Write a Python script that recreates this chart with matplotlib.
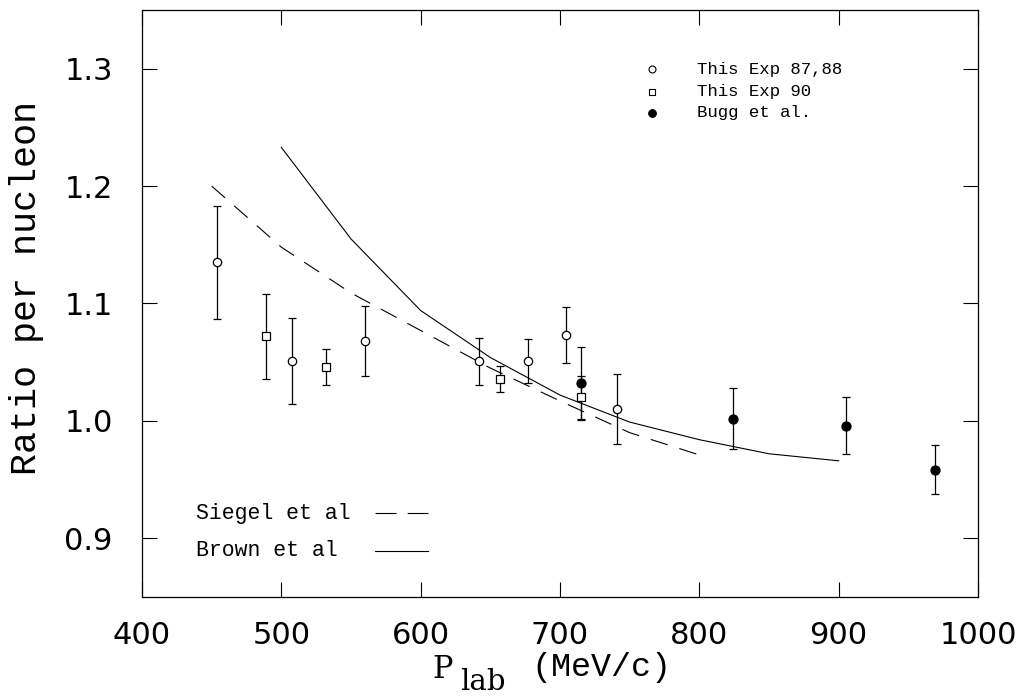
import numpy as np
import matplotlib
matplotlib.use('Agg')
import matplotlib.pyplot as plt

# data
exp8788_p = [454, 508, 560, 642, 677, 704, 741]
exp8788_r = [1.135, 1.051, 1.068, 1.051, 1.051, 1.073, 1.010]
exp8788_e = [0.048, 0.037, 0.030, 0.020, 0.019, 0.024, 0.030]

exp90_p = [489, 532, 657, 715]
exp90_r = [1.072, 1.046, 1.036, 1.020]
exp90_e = [0.036, 0.015, 0.011, 0.018]

bugg_p = [715, 824, 905, 969]
bugg_r = [1.032, 1.002, 0.996, 0.9585]
bugg_e = [0.031, 0.026, 0.024, 0.021]

siegel_p = [450, 500, 550, 600, 650, 700, 750, 800]
siegel_r = [1.200, 1.148, 1.109, 1.077, 1.045, 1.017, 0.990, 0.971]

brown_p = [500, 550, 600, 650, 700, 750, 800, 850, 900]
brown_r = [1.233, 1.155, 1.094, 1.054, 1.022, 0.999, 0.984, 0.972, 0.966]

xticks = [400, 500, 600, 700, 800, 900, 1000]
yticks = [0.9, 1.0, 1.1, 1.2, 1.3]

serif = 'DejaVu Serif'
mono = 'Liberation Mono'
lw = 0.8
W, H = 1016, 698

fig = plt.figure(figsize=(W / 100, H / 100), dpi=100)
ax = fig.add_axes([142 / W, 1 - 597 / H, 836 / W, 587 / H])
ax.set_xlim(400, 1000)
ax.set_ylim(0.85, 1.35)

# theory curves
ax.plot(siegel_p, siegel_r, color='black', lw=lw, linestyle=(0, (16, 11)))
ax.plot(brown_p, brown_r, color='black', lw=lw)

# data points
ebar = dict(ecolor='black', elinewidth=0.9, capsize=2.6, capthick=0.9, linestyle='none')
ax.errorbar(exp8788_p, exp8788_r, yerr=exp8788_e, marker='o', ms=6, mfc='white',
            mec='black', mew=0.9, **ebar)
ax.errorbar(exp90_p, exp90_r, yerr=exp90_e, marker='s', ms=5.5, mfc='white',
            mec='black', mew=0.9, **ebar)
ax.errorbar(bugg_p, bugg_r, yerr=bugg_e, marker='o', ms=6.5, mfc='black',
            mec='black', mew=0.9, **ebar)

# axes style
ax.set_xticks(xticks)
ax.set_yticks(yticks)
ax.set_yticklabels(['%.1f' % v for v in yticks])
ax.tick_params(axis='both', which='both', direction='in', length=11, width=0.8,
               top=True, right=True, labelsize=22)
ax.tick_params(axis='x', pad=17.5)
ax.tick_params(axis='y', pad=21)
for s in ax.spines.values():
    s.set_linewidth(0.9)

# y label
fig.text(27 / W, 1 - 288 / H, 'Ratio per nucleon', family=mono, fontsize=26.5,
         rotation=90, ha='center', va='center')

# x label: P_lab (MeV/c)
fig.text(432 / W, 1 - 654 / H, 'P', family=serif, fontsize=22, ha='left', va='top')
fig.text(460 / W, 1 - 668 / H, 'lab', family=serif, fontsize=21, ha='left', va='top')
fig.text(531 / W, 1 - 652 / H, '(MeV/c)', family=mono, fontsize=24, ha='left', va='top')

# upper-right key
keys = [('o', 'white', 'This Exp 87,88', 5),
        ('s', 'white', 'This Exp 90', 4.5),
        ('o', 'black', 'Bugg et al.', 5.5)]
rows = [0.899, 0.861, 0.825]
for (m, fc, lab, ms), yy in zip(keys, rows):
    ax.plot([0.610], [yy], marker=m, ms=ms, mfc=fc, mec='black', mew=0.8,
            transform=ax.transAxes, linestyle='none')
    ax.text(0.664, yy, lab, transform=ax.transAxes, family=mono, fontsize=12.5,
            va='center', ha='left')

# lower-left key
ax.text(0.0646, 0.1426, 'Siegel et al', transform=ax.transAxes, family=mono,
        fontsize=15.5, va='center', ha='left')
ax.text(0.0646, 0.0784, 'Brown et al', transform=ax.transAxes, family=mono,
        fontsize=15.5, va='center', ha='left')
ax.plot([0.279, 0.342], [0.1426, 0.1426], transform=ax.transAxes, color='black',
        lw=lw, linestyle=(0, (19, 10)))
ax.plot([0.279, 0.342], [0.0784, 0.0784], transform=ax.transAxes, color='black',
        lw=lw)

fig.savefig('out.png', dpi=100)
plt.close(fig)
